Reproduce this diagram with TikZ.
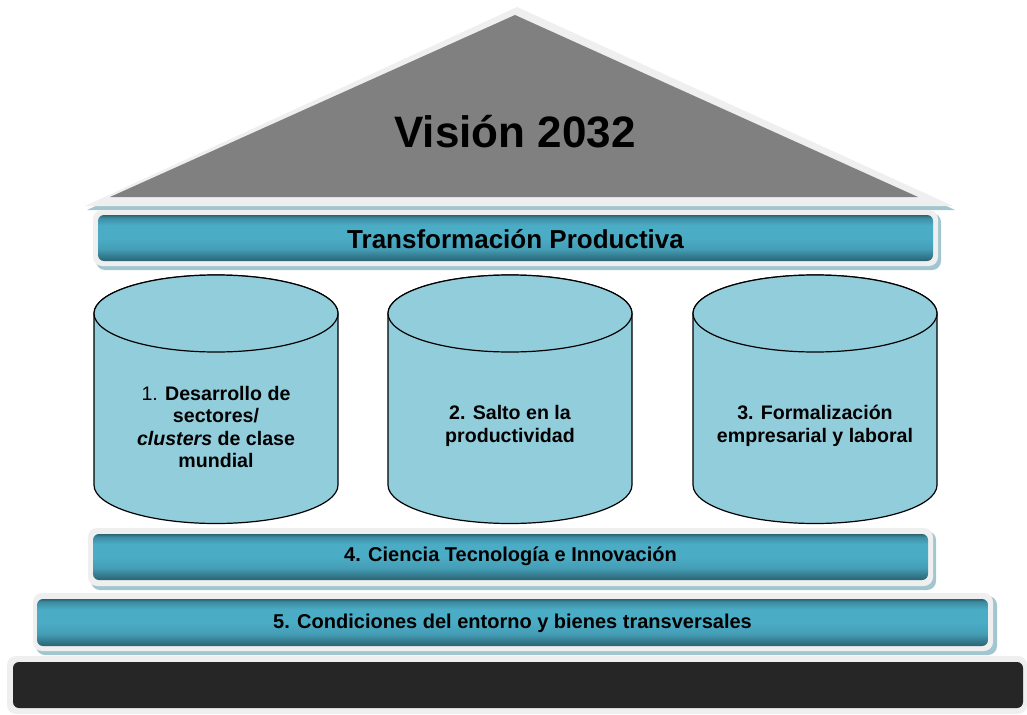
\documentclass[tikz,border=0pt]{standalone}
\usepackage{fontspec}
\setmainfont{Liberation Sans}
\definecolor{rimgray}{HTML}{EFEFEF}
\definecolor{dropteal}{HTML}{A2C6CF}
\definecolor{bandedge}{HTML}{2A6373}
\definecolor{bandmid}{HTML}{4BACC6}
\definecolor{pillarblue}{HTML}{92CDDC}
\definecolor{roofgray}{HTML}{808080}
\definecolor{basedark}{HTML}{262626}
% glossy beam: thin dark top edge, broad light middle, darker lower edge
\pgfdeclareverticalshading{beamshade}{100bp}{%
  color(0bp)=(bandedge);
  color(25bp)=(bandedge);
  color(38bp)=(bandmid!80!bandedge);
  color(50bp)=(bandmid);
  color(64bp)=(bandmid);
  color(72bp)=(bandmid!55!bandedge);
  color(75bp)=(bandedge);
  color(100bp)=(bandedge)}
\begin{document}
\begin{tikzpicture}[x=0.5pt,y=0.5pt,
  rim/.style={fill=rimgray},
  drop/.style={fill=dropteal},
  band/.style={rounded corners=3pt, shading=beamshade},
  pillar/.style={fill=pillarblue, draw=black, line width=0.6pt},
  bandtext/.style={font=\bfseries\fontsize{10}{12}\selectfont, text=black},
  pillartext/.style={font=\bfseries\fontsize{9.8}{11.2}\selectfont, align=center, text=black}]

\useasboundingbox (0,0) rectangle (1027,714);

% roof
\fill[drop] (87,504) -- (518,704) -- (955,504) -- cycle;
\fill[rim] (85,508) -- (517,707) -- (953,508) -- cycle;
\fill[roofgray] (110,517) -- (515,699) -- (918,517) -- cycle;
\node[font=\bfseries\fontsize{22}{26}\selectfont, text=black] (vision) at (515,582) {Visión 2032};

% top beam
\fill[drop, rounded corners=4.5pt] (96,444) rectangle (941,501);
\fill[rim, rounded corners=4.5pt] (93,448) rectangle (938,504);
\shade[band] (98,453) rectangle (933,499);
\node[font=\bfseries\fontsize{13}{15}\selectfont, text=black] (beam) at (515.5,475) {Transformación Productiva};

% pillars
\foreach \cx/\nm in {216/p1,510/p2,815/p3}{
  \filldraw[pillar] (\cx-122,400.5) -- (\cx-122,229)
     arc[start angle=180, end angle=360, x radius=122, y radius=38.5]
     -- (\cx+122,400.5)
     arc[start angle=0, end angle=180, x radius=122, y radius=38.5] -- cycle;
  \draw[pillar] (\cx,400.5) ellipse[x radius=122, y radius=38.5];
}
\node[pillartext] (t1) at (216,287) {{\mdseries 1.} Desarrollo de\\sectores/\\\textit{clusters} de clase\\mundial};
\node[pillartext] (t2) at (510,288) {2. Salto en la\\productividad};
\node[pillartext] (t3) at (815,288) {3. Formalización\\empresarial y laboral};

% fourth level
\fill[drop, rounded corners=4.5pt] (91,124) rectangle (936,183);
\fill[rim, rounded corners=4.5pt] (88,128) rectangle (933,186);
\shade[band] (93,134) rectangle (928,180);
\node[bandtext] (ciencia) at (510.5,158) {4. Ciencia Tecnología e Innovación};

% fifth level
\fill[drop, rounded corners=4.5pt] (36,59) rectangle (997,118);
\fill[rim, rounded corners=4.5pt] (33,63) rectangle (993,121);
\shade[band] (37,68) rectangle (988,115);
\node[bandtext] (entorno) at (512.5,91) {5. Condiciones del entorno y bienes transversales};

% base
\fill[rim, rounded corners=4.5pt] (7,0) rectangle (1027,58);
\fill[basedark, rounded corners=3pt] (13,6) rectangle (1023,52);
\end{tikzpicture}
\end{document}
